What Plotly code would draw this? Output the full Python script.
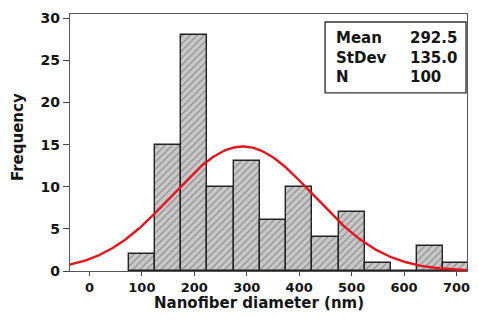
import numpy as np
import plotly.graph_objects as go

bin_centers = [100, 150, 200, 250, 300, 350, 400, 450, 500, 550, 600, 650, 700]
frequency = [2, 15, 28, 10, 13, 6, 10, 4, 7, 1, 0, 3, 1]
x_ticks = [0, 100, 200, 300, 400, 500, 600, 700]
y_ticks = [0, 5, 10, 15, 20, 25, 30]
mean_val = 292.5
stdev_val = 135.0
n_val = 100
bin_width = 50

xc = np.linspace(-40, 725, 300)
yc = n_val * bin_width / (stdev_val * np.sqrt(2 * np.pi)) * np.exp(-0.5 * ((xc - mean_val) / stdev_val) ** 2)

font = "DejaVu Sans"
ink = "#151515"
fig = go.Figure()
fig.add_trace(go.Bar(
    x=bin_centers, y=frequency, width=bin_width,
    marker=dict(color="#c4c4c4", line=dict(color="#222", width=1.4),
                pattern=dict(shape="/", fgcolor="#555", bgcolor="#c8c8c8", size=5, solidity=0.25)),
    showlegend=False,
))
fig.add_trace(go.Scatter(x=xc, y=yc, mode="lines", line=dict(color="#e8141c", width=2.4), showlegend=False))

fig.add_annotation(
    xref="paper", yref="paper", x=0.665, y=0.829, xanchor="left", yanchor="middle",
    text="<b>Mean<br>StDev<br>N</b>", align="left", showarrow=False,
    font=dict(family=font, size=15, color=ink),
)
fig.add_annotation(
    xref="paper", yref="paper", x=0.8525, y=0.829, xanchor="left", yanchor="middle",
    text=f"<b>{mean_val:.1f}<br>{stdev_val:.1f}<br>{n_val}</b>", align="left", showarrow=False,
    font=dict(family=font, size=15, color=ink),
)
fig.add_shape(type="rect", xref="paper", yref="paper", x0=0.6425, x1=0.9975, y0=0.693, y1=0.969,
              line=dict(color="#333", width=1.4), fillcolor="rgba(0,0,0,0)")

# axis titles
fig.add_annotation(
    xref="paper", yref="paper", x=0.5, y=0, xanchor="center", yanchor="bottom", yshift=-43,
    xshift=-10, text="<b>Nanofiber diameter (nm)</b>", showarrow=False,
    font=dict(family=font, size=15, color=ink),
)
fig.add_annotation(
    xref="paper", yref="paper", x=0, y=0.521, xanchor="center", yanchor="middle", xshift=-52,
    text="<b>Frequency</b>", textangle=-90, showarrow=False,
    font=dict(family=font, size=15, color=ink),
)

fig.update_layout(
    width=462, height=306,
    margin=dict(l=62, r=0, t=6, b=43),
    paper_bgcolor="white", plot_bgcolor="white",
    font=dict(family=font, size=13, color=ink),
    bargap=0,
)
fig.update_xaxes(
    range=[-37, 720], tickvals=x_ticks, ticks="outside", ticklen=4, tickcolor="#444",
    showline=True, linecolor="#555", linewidth=1.4, mirror=True, showgrid=False, zeroline=False,
    ticklabeloverflow="allow",
    tickfont=dict(family=font, size=13, color=ink, weight="bold"),
)
fig.update_yaxes(
    range=[0, 30.5], tickvals=y_ticks, ticks="outside", ticklen=6, tickcolor="#444",
    showline=True, linecolor="#555", linewidth=1.4, mirror=True, showgrid=False, zeroline=False,
    tickfont=dict(family=font, size=14, color=ink, weight="bold"),
)
fig.write_html("out.html")
